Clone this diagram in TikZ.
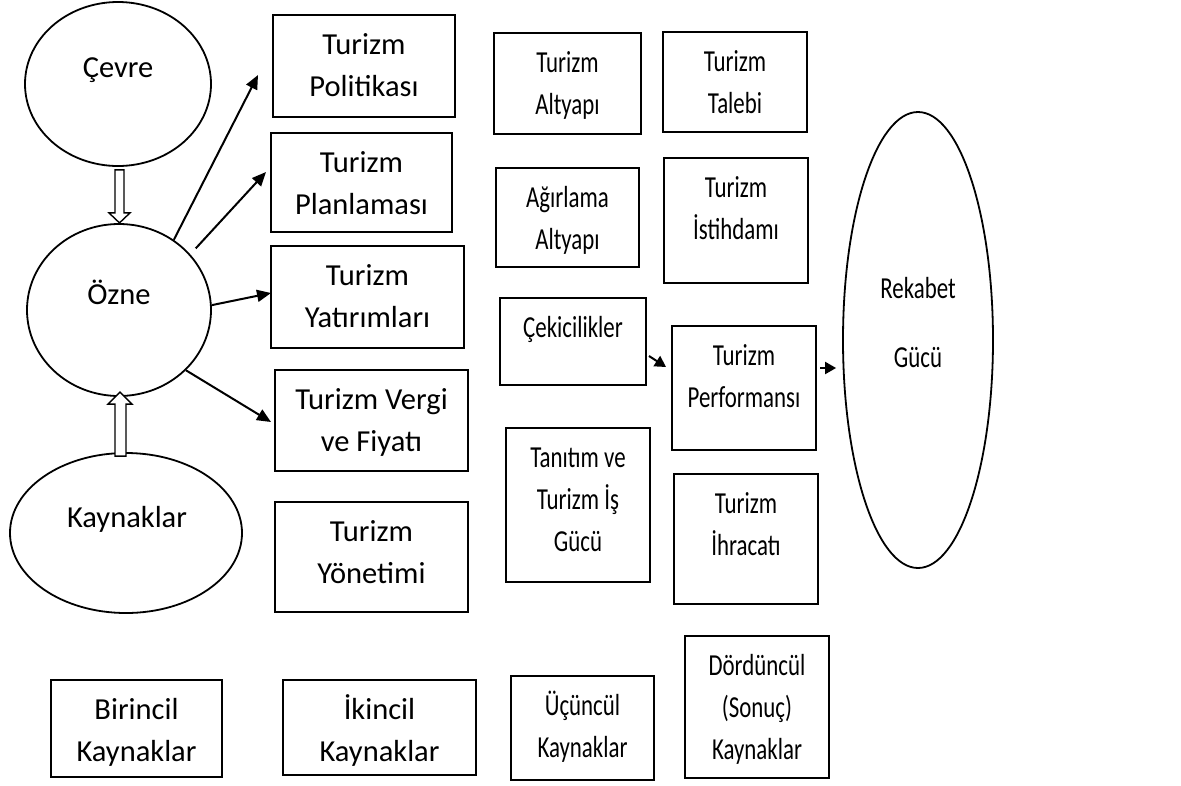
\documentclass[tikz,border=0pt]{standalone}
\usepackage{fontspec}
\setmainfont{Carlito}
\newfontfamily\narrowfont[FakeStretch=0.75]{Carlito}
\usetikzlibrary{arrows.meta,calc,shapes.geometric}

\tikzset{
  txt/.style={font=\fontsize{30.5}{42}\selectfont, align=center, inner sep=0pt},
  ntxt/.style={font=\narrowfont\fontsize{30.5}{42}\selectfont, align=center, inner sep=0pt},
  box/.style={draw, line width=2pt, rectangle, inner sep=0pt},
  oval/.style={draw, line width=1.8pt, ellipse, inner sep=0pt},
  arr/.style={line width=2pt, -{Triangle[length=14pt,width=12pt]}},
  smallarr/.style={line width=2pt, -{Triangle[length=11pt,width=12pt]}},
  hollow/.style={draw, line width=1.4pt, fill=white, line join=miter},
}

% strut that fixes the height of a first line, so its baseline sits 30pt below the text top
\newcommand\firstline{\rule{0pt}{30pt}}

% [#1 text style], #2 name, #3 cx, #4 cy, #5 width, #6 height, #7 text (first baseline 40pt below top)
\newcommand\tbox[7][txt]{%
  \node[box, minimum width=#5pt, minimum height=#6pt,
        label={[#1, anchor=north, yshift=-10pt]north:\firstline#7}] (#2) at (#3,#4) {};}

\begin{document}
\begin{tikzpicture}[x=1pt, y=-1pt]
\useasboundingbox[fill=white] (0,0) rectangle (1181,785);

% ellipses and their texts
\node[oval, minimum width=186pt, minimum height=164pt] (cevre) at (118,84) {};
\node[oval, minimum width=184pt, minimum height=172pt] (ozne) at (119,310) {};
\node[oval, minimum width=232pt, minimum height=160pt] (kay) at (126,533) {};
\node[oval, minimum width=150pt, minimum height=456pt] (rek) at (918,340) {};

\node[txt, anchor=base] (cevretxt) at ($(cevre.center)+(0,-7)$) {Çevre};
\node[txt, anchor=base] (oznetxt) at ($(ozne.center)+(0,-6)$) {Özne};
\node[txt, anchor=base] (kaytxt) at ($(kay.center)+(1,-6)$) {Kaynaklar};
\node[ntxt, anchor=north] (rektxt) at ($(rek.center)+(0,-72)$) {\firstline Rekabet\\[27pt]Gücü};

% boxes, left columns
\tbox{pol}{364}{66}{182}{102}{Turizm\\Politikası}
\tbox{plan}{361.5}{182.5}{181}{99}{Turizm\\Planlaması}
\tbox{yat}{367.5}{297}{193}{102}{Turizm\\Yatırımları}
\tbox{verg}{371.5}{420.5}{193}{101}{Turizm Vergi\\ve Fiyatı}
\tbox{yon}{371.5}{557}{193}{110}{Turizm\\Yönetimi}
\tbox{bir}{136.5}{728.5}{171}{97}{Birincil\\Kaynaklar}
\tbox{iki}{379.5}{727.5}{193}{95}{İkincil\\Kaynaklar}

% boxes, right columns (narrow lettering)
\tbox[ntxt]{alt}{567.5}{83.5}{147}{101}{Turizm\\Altyapı}
\tbox[ntxt]{tal}{735}{82}{144}{100}{Turizm\\Talebi}
\tbox[ntxt]{agr}{567.5}{217.5}{143}{99}{Ağırlama\\Altyapı}
\tbox[ntxt]{ist}{736}{220.5}{144}{125}{Turizm\\İstihdamı}
\tbox[ntxt]{cek}{573}{341.5}{146}{87}{Çekicilikler}
\tbox[ntxt]{perf}{744}{388}{144}{124}{Turizm\\Performansı}
\tbox[ntxt]{tan}{578}{505}{144}{154}{Tanıtım ve\\Turizm İş\\Gücü}
\tbox[ntxt]{ihr}{746}{539}{144}{130}{Turizm\\İhracatı}
\tbox[ntxt]{ucu}{582.5}{728}{143}{104}{Üçüncül\\Kaynaklar}
\tbox[ntxt]{dor}{757}{707}{144}{142}{Dördüncül\\(Sonuç)\\Kaynaklar}

% arrows from the subject to the policy boxes
\draw[arr] (ozne.52) -- ($(pol.west)+(-14,9)$);
\draw[arr, shorten <=8pt] (ozne.38) -- ($(plan.west)+(-4,-10.5)$);
\draw[arr] (ozne.3) -- ($(yat.west)+(1,-4)$);
\draw[arr] (ozne.-42) -- ($(verg.west)+(-3,1.5)$);

% performance chain
\draw[smallarr] ($(cek.east)+(2,14.5)$) -- ($(perf.west)+(-5,-21)$);
\draw[smallarr] ($(perf.east)+(3,-20)$) -- ($(rek.west)+(-6,28)$);

% hollow block arrows into the subject
\draw[hollow] ($(cevre.south)+(-3,3)$) -- ++(0,43) -- ++(-6,0) -- ++(10.5,10)
  -- ++(10.5,-10) -- ++(-6,0) -- ++(0,-43) -- cycle;
\draw[hollow] ($(kay.north)+(-11,4)$) -- ++(0,-52) -- ++(-7,0) -- ++(12,-12)
  -- ++(12,12) -- ++(-6,0) -- ++(0,52) -- cycle;
\end{tikzpicture}
\end{document}
